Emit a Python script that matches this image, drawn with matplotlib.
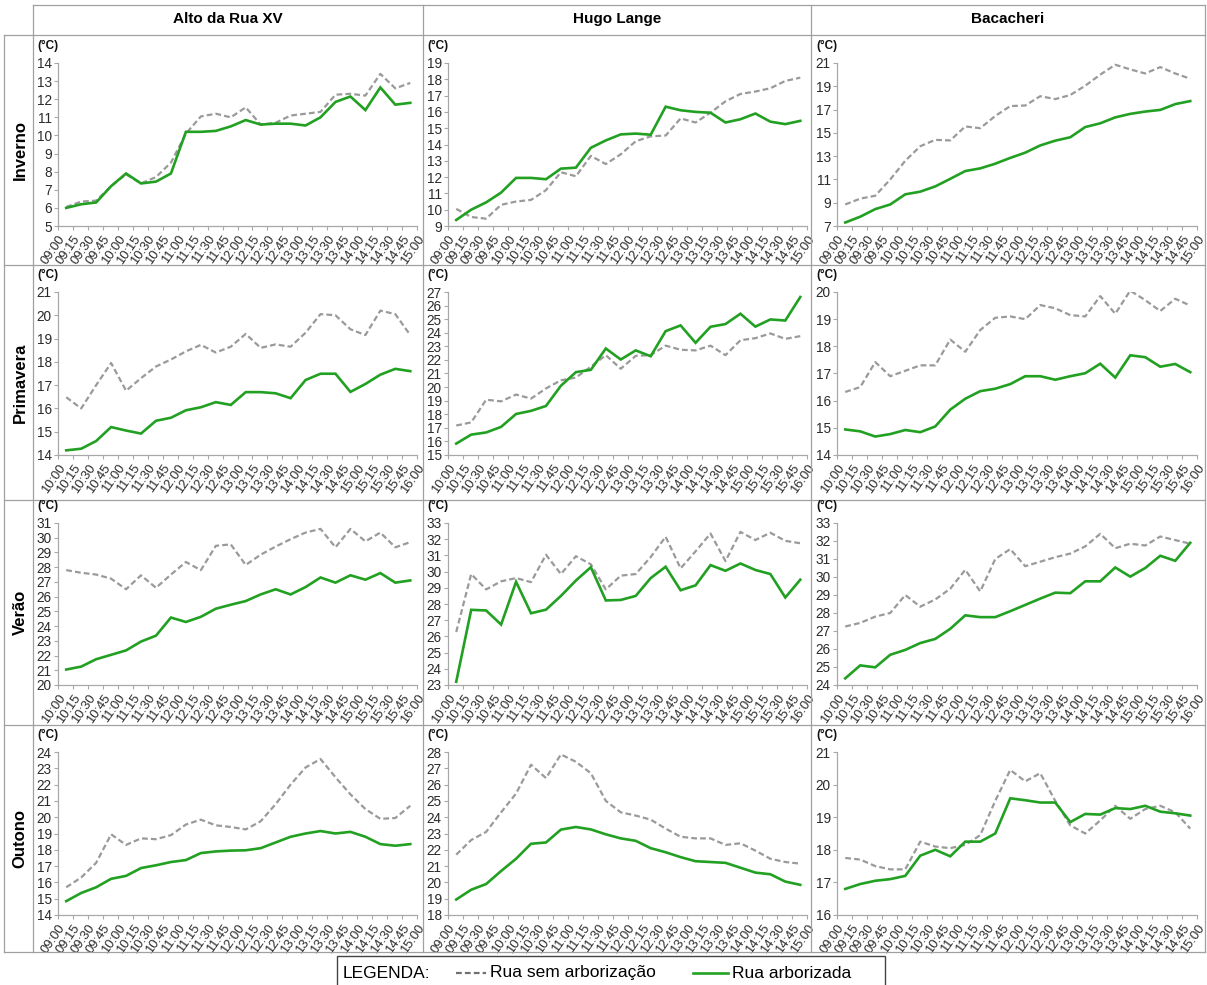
import matplotlib
matplotlib.use('Agg')
import matplotlib.pyplot as plt
from matplotlib.lines import Line2D
from matplotlib.patches import Rectangle
import numpy as np

plt.rcParams['font.family'] = ['Liberation Sans', 'DejaVu Sans']

W, H = 1207, 985
fig = plt.figure(figsize=(W / 100, H / 100), dpi=100)

# ---------------- data ----------------
columns = ['Alto da Rua XV', 'Hugo Lange', 'Bacacheri']
seasons = ['Inverno', 'Primavera', 'Verão', 'Outono']

labels_0900 = ['09:00', '09:15', '09:30', '09:45', '10:00', '10:15', '10:30', '10:45',
               '11:00', '11:15', '11:30', '11:45', '12:00', '12:15', '12:30', '12:45',
               '13:00', '13:15', '13:30', '13:45', '14:00', '14:15', '14:30', '14:45', '15:00']
labels_1000 = ['10:00', '10:15', '10:30', '10:45', '11:00', '11:15', '11:30', '11:45',
               '12:00', '12:15', '12:30', '12:45', '13:00', '13:15', '13:30', '13:45',
               '14:00', '14:15', '14:30', '14:45', '15:00', '15:15', '15:30', '15:45', '16:00']

# Inverno
alto_inv_sem = [6.05, 6.35, 6.4, 7.2, 7.85, 7.35, 7.7, 8.5, 10.1, 11.05, 11.2, 11.0,
                11.55, 10.6, 10.7, 11.1, 11.2, 11.3, 12.25, 12.3, 12.2, 13.4, 12.6, 12.9]
alto_inv_arb = [6.0, 6.2, 6.3, 7.2, 7.9, 7.35, 7.45, 7.9, 10.2, 10.2, 10.25, 10.5,
                10.85, 10.6, 10.65, 10.65, 10.55, 11.0, 11.85, 12.15, 11.4, 12.65, 11.7, 11.8]
hugo_inv_sem = [10.05, 9.55, 9.45, 10.3, 10.5, 10.6, 11.2, 12.3, 12.05, 13.3, 12.8, 13.4,
                14.2, 14.5, 14.55, 15.6, 15.35, 15.95, 16.65, 17.1, 17.25, 17.45, 17.9, 18.1]
hugo_inv_arb = [9.37, 10.0, 10.45, 11.05, 11.95, 11.95, 11.87, 12.52, 12.58, 13.8, 14.25, 14.62,
                14.67, 14.6, 16.32, 16.1, 16.0, 15.95, 15.35, 15.55, 15.9, 15.4, 15.25, 15.45]
baca_inv_sem = [8.85, 9.35, 9.6, 11.0, 12.6, 13.85, 14.4, 14.35, 15.55, 15.4, 16.45, 17.3,
                17.35, 18.15, 17.9, 18.25, 19.05, 20.0, 20.85, 20.45, 20.1, 20.65, 20.1, 19.65]
baca_inv_arb = [7.3, 7.8, 8.45, 8.85, 9.72, 9.95, 10.4, 11.05, 11.72, 11.95, 12.35, 12.85,
                13.3, 13.92, 14.33, 14.62, 15.5, 15.82, 16.33, 16.63, 16.83, 16.97, 17.47, 17.73]

# Primavera
alto_pri_sem = [16.48, 16.0, 17.0, 17.95, 16.76, 17.3, 17.8, 18.1, 18.45, 18.73, 18.4, 18.65,
                19.2, 18.6, 18.75, 18.65, 19.25, 20.05, 20.0, 19.4, 19.15, 20.2, 20.05, 19.15]
alto_pri_arb = [14.2, 14.27, 14.6, 15.2, 15.05, 14.92, 15.47, 15.6, 15.92, 16.05, 16.27, 16.15,
                16.7, 16.7, 16.65, 16.44, 17.22, 17.49, 17.49, 16.71, 17.05, 17.45, 17.7, 17.6]
hugo_pri_sem = [17.17, 17.4, 19.07, 18.95, 19.45, 19.15, 19.9, 20.5, 20.7, 21.5, 22.35, 21.35,
                22.3, 22.35, 23.05, 22.75, 22.7, 23.05, 22.35, 23.45, 23.6, 23.95, 23.55, 23.75]
hugo_pri_arb = [15.84, 16.5, 16.66, 17.07, 18.02, 18.25, 18.61, 20.1, 21.1, 21.27, 22.84, 22.03,
                22.7, 22.27, 24.12, 24.54, 23.26, 24.44, 24.64, 25.4, 24.45, 24.98, 24.9, 26.63]
baca_pri_sem = [16.32, 16.5, 17.42, 16.9, 17.1, 17.3, 17.3, 18.25, 17.8, 18.6, 19.05, 19.1,
                19.0, 19.52, 19.4, 19.15, 19.1, 19.85, 19.2, 20.05, 19.7, 19.3, 19.75, 19.5]
baca_pri_arb = [14.94, 14.87, 14.68, 14.77, 14.92, 14.84, 15.05, 15.67, 16.07, 16.35, 16.44, 16.61,
                16.9, 16.9, 16.77, 16.9, 17.01, 17.36, 16.85, 17.67, 17.6, 17.25, 17.35, 17.05]

# Verão
alto_ver_sem = [27.8, 27.62, 27.5, 27.22, 26.5, 27.45, 26.6, 27.5, 28.35, 27.8, 29.45, 29.55,
                28.15, 28.85, 29.4, 29.9, 30.35, 30.6, 29.35, 30.6, 29.75, 30.35, 29.35, 29.7]
alto_ver_arb = [21.05, 21.25, 21.75, 22.05, 22.35, 22.95, 23.35, 24.58, 24.28, 24.63, 25.18, 25.45,
                25.7, 26.15, 26.5, 26.15, 26.65, 27.3, 26.95, 27.45, 27.15, 27.6, 26.95, 27.1]
hugo_ver_sem = [26.27, 29.85, 28.9, 29.4, 29.6, 29.35, 31.04, 29.85, 30.95, 30.45, 28.9, 29.75,
                29.85, 30.9, 32.15, 30.2, 31.25, 32.35, 30.65, 32.45, 31.95, 32.4, 31.9, 31.75]
hugo_ver_arb = [23.2, 27.64, 27.6, 26.73, 29.37, 27.43, 27.65, 28.5, 29.45, 30.27, 28.22, 28.25,
                28.5, 29.6, 30.3, 28.85, 29.15, 30.4, 30.05, 30.5, 30.1, 29.85, 28.4, 29.5]
baca_ver_sem = [27.25, 27.45, 27.8, 28.0, 29.0, 28.35, 28.75, 29.35, 30.4, 29.2, 31.0, 31.55,
                30.6, 30.85, 31.1, 31.3, 31.7, 32.4, 31.6, 31.85, 31.75, 32.25, 32.05, 31.85]
baca_ver_arb = [24.37, 25.09, 24.98, 25.68, 25.95, 26.33, 26.56, 27.12, 27.87, 27.77, 27.77, 28.1,
                28.45, 28.8, 29.13, 29.1, 29.76, 29.76, 30.53, 30.02, 30.5, 31.18, 30.9, 31.9]

# Outono
alto_out_sem = [15.7, 16.3, 17.2, 18.95, 18.3, 18.7, 18.65, 18.9, 19.55, 19.85, 19.5, 19.4,
                19.25, 19.75, 20.8, 22.0, 23.05, 23.57, 22.45, 21.4, 20.5, 19.9, 19.95, 20.7]
alto_out_arb = [14.85, 15.35, 15.7, 16.22, 16.4, 16.88, 17.05, 17.25, 17.37, 17.8, 17.9, 17.95,
                17.97, 18.1, 18.45, 18.8, 19.0, 19.15, 19.0, 19.1, 18.8, 18.35, 18.25, 18.35]
hugo_out_sem = [21.7, 22.6, 23.1, 24.3, 25.45, 27.22, 26.4, 27.85, 27.4, 26.7, 25.0, 24.3,
                24.1, 23.85, 23.3, 22.8, 22.7, 22.7, 22.3, 22.4, 21.95, 21.45, 21.25, 21.15]
hugo_out_arb = [18.95, 19.55, 19.9, 20.7, 21.45, 22.37, 22.45, 23.24, 23.4, 23.25, 22.95, 22.7,
                22.55, 22.1, 21.85, 21.55, 21.3, 21.25, 21.2, 20.9, 20.6, 20.5, 20.05, 19.85]
baca_out_sem = [17.75, 17.7, 17.5, 17.4, 17.4, 18.25, 18.1, 18.05, 18.15, 18.45, 19.5, 20.45,
                20.1, 20.35, 19.5, 18.75, 18.5, 18.9, 19.35, 18.95, 19.25, 19.35, 19.15, 18.65]
baca_out_arb = [16.8, 16.95, 17.05, 17.1, 17.2, 17.82, 18.0, 17.8, 18.25, 18.25, 18.5, 19.58,
                19.52, 19.45, 19.45, 18.85, 19.1, 19.08, 19.28, 19.25, 19.35, 19.17, 19.12, 19.05]

panels = [
    # row, col, labels, sem, arb, ymin, ymax, step
    (0, 0, labels_0900, alto_inv_sem, alto_inv_arb, 5, 14, 1),
    (0, 1, labels_0900, hugo_inv_sem, hugo_inv_arb, 9, 19, 1),
    (0, 2, labels_0900, baca_inv_sem, baca_inv_arb, 7, 21, 2),
    (1, 0, labels_1000, alto_pri_sem, alto_pri_arb, 14, 21, 1),
    (1, 1, labels_1000, hugo_pri_sem, hugo_pri_arb, 15, 27, 1),
    (1, 2, labels_1000, baca_pri_sem, baca_pri_arb, 14, 20, 1),
    (2, 0, labels_1000, alto_ver_sem, alto_ver_arb, 20, 31, 1),
    (2, 1, labels_1000, hugo_ver_sem, hugo_ver_arb, 23, 33, 1),
    (2, 2, labels_1000, baca_ver_sem, baca_ver_arb, 24, 33, 1),
    (3, 0, labels_0900, alto_out_sem, alto_out_arb, 14, 24, 1),
    (3, 1, labels_0900, hugo_out_sem, hugo_out_arb, 18, 28, 1),
    (3, 2, labels_0900, baca_out_sem, baca_out_arb, 16, 21, 1),
]

# ---------------- layout (pixels) ----------------
col_left = [58, 448, 837]
col_right = [417, 807, 1197]
row_top = [63, 292, 523, 752]
row_bot = [226, 455, 685, 915]

GREEN = '#22a022'
GRAY = '#9a9a9a'
AXC = '#a8a8a8'
LINEC = '#a0a0a0'

def fx(px):
    return px / W

def fy(py):
    return 1 - py / H

for (r, c, labs, sem, arb, ymin, ymax, step) in panels:
    l, rr = col_left[c], col_right[c]
    t, b = row_top[r], row_bot[r]
    ax = fig.add_axes([fx(l), fy(b), fx(rr - l), (b - t) / H])
    n = len(sem)
    x = np.arange(n) + 0.55
    ax.plot(x, sem, color=GRAY, lw=1.6, ls=(0, (2.6, 1.4)))
    ax.plot(x, arb, color=GREEN, lw=1.9, solid_joinstyle='miter')
    ax.set_xlim(0, len(labs) - 1)
    ax.set_ylim(ymin, ymax)
    ax.set_yticks(np.arange(ymin, ymax + 0.01, step))
    ax.set_xticks(np.arange(len(labs)))
    ax.set_xticklabels(labs, rotation=55, ha='right', va='top', rotation_mode='anchor')
    for s in ['top', 'right']:
        ax.spines[s].set_visible(False)
    for s in ['left', 'bottom']:
        ax.spines[s].set_color(AXC)
        ax.spines[s].set_linewidth(0.9)
    ax.tick_params(axis='x', colors=AXC, labelcolor='#2a2a2a', labelsize=9.4,
                   length=3, width=0.8, direction='out', pad=2)
    ax.tick_params(axis='y', colors=AXC, labelcolor='#2a2a2a', labelsize=9.8,
                   length=3, width=0.8, direction='out', pad=1.5)
    ax.set_facecolor('none')
    fig.text(fx(l - 21), fy(t - 17), '(°C)', fontsize=8.5, fontweight='bold',
             ha='left', va='center', color='#111111')

# ---------------- table grid ----------------
def hline(y, x0, x1):
    fig.add_artist(Line2D([fx(x0), fx(x1)], [fy(y), fy(y)], color=LINEC, lw=0.9))

def vline(x, y0, y1):
    fig.add_artist(Line2D([fx(x), fx(x)], [fy(y0), fy(y1)], color=LINEC, lw=0.9))

hline(5, 33, 1205)
for y in [35, 265, 500, 725, 952]:
    hline(y, 4, 1205)
for x in [33, 423, 811, 1205]:
    vline(x, 5, 952)
vline(4, 35, 952)

col_centers = [228, 617, 1008]
for name, cx in zip(columns, col_centers):
    fig.text(fx(cx), fy(19), name, fontsize=11, fontweight='bold', ha='center', va='center')

row_centers = [150, 383, 612, 838]
for name, cy in zip(seasons, row_centers):
    fig.text(fx(20), fy(cy), name, fontsize=12, fontweight='bold', ha='center', va='center',
             rotation=90)

# ---------------- legend ----------------
fig.add_artist(Rectangle((fx(337), fy(992)), fx(885 - 337), (992 - 956) / H,
                         transform=fig.transFigure, fill=False, edgecolor='#444444', lw=1.0))
ly = 973
fig.text(fx(343), fy(ly), 'LEGENDA:', fontsize=12.5, ha='left', va='center')
fig.add_artist(Line2D([fx(456), fx(486)], [fy(ly), fy(ly)], color='#707070', lw=1.6,
                      ls=(0, (2.6, 1.4))))
fig.text(fx(490), fy(ly), 'Rua sem arborização', fontsize=12.5, ha='left', va='center')
fig.add_artist(Line2D([fx(693), fx(728)], [fy(ly), fy(ly)], color=GREEN, lw=1.9))
fig.text(fx(732), fy(ly), 'Rua arborizada', fontsize=12.5, ha='left', va='center')

fig.savefig('out.png', dpi=100)
